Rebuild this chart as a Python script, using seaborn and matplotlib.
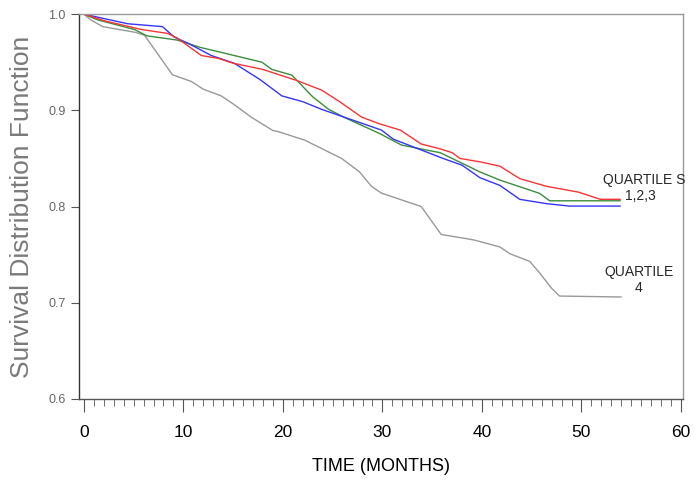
import matplotlib
matplotlib.use("Agg")
import matplotlib.pyplot as plt
import seaborn as sns
import pandas as pd

# survival curves (months, survival)
q4_time = [0, 0.7, 1.9, 5.2, 6.1, 8.9, 10.8, 12.0, 13.8, 15.1, 16.8, 19.0, 19.5, 22.2,
           25.9, 27.7, 28.9, 29.9, 33.9, 35.9, 38.8, 39.3, 41.8, 42.8, 44.8, 45.8,
           47.0, 47.8, 54.0]
q4_surv = [1.0, 0.994, 0.987, 0.981, 0.978, 0.937, 0.930, 0.922, 0.915, 0.906, 0.893,
           0.879, 0.878, 0.869, 0.850, 0.836, 0.821, 0.814, 0.800, 0.771, 0.766, 0.765,
           0.758, 0.751, 0.743, 0.731, 0.715, 0.707, 0.706]

red_time = [0, 2.1, 5.8, 8.4, 9.4, 11.8, 13.5, 15.0, 18.0, 21.4, 23.9, 25.7, 27.9, 29.7,
            31.8, 33.9, 35.8, 37.0, 37.8, 39.8, 41.8, 43.8, 46.5, 49.7, 51.9, 53.9]
red_surv = [1.0, 0.993, 0.984, 0.980, 0.975, 0.957, 0.954, 0.949, 0.9425, 0.931, 0.921,
            0.909, 0.893, 0.886, 0.8795, 0.865, 0.860, 0.856, 0.850, 0.8465, 0.842,
            0.829, 0.821, 0.815, 0.8075, 0.8075]

blue_time = [0, 4.4, 7.9, 9.1, 10.5, 12.8, 15.1, 17.7, 19.9, 22.0, 23.9, 29.9, 31.1,
             36.1, 38.0, 39.8, 41.8, 43.8, 46.5, 48.8, 53.9]
blue_surv = [1.0, 0.990, 0.987, 0.976, 0.9696, 0.957, 0.949, 0.932, 0.915, 0.909, 0.901,
             0.8795, 0.870, 0.850, 0.843, 0.830, 0.822, 0.8075, 0.803, 0.8005, 0.8005]

green_time = [0, 1.4, 5.1, 6.3, 9.4, 11.7, 13.5, 17.9, 18.9, 20.9, 23.0, 24.6, 26.1,
              29.7, 31.9, 33.8, 35.8, 39.8, 41.8, 45.8, 46.8, 53.9]
green_surv = [1.0, 0.994, 0.984, 0.9775, 0.973, 0.9654, 0.961, 0.950, 0.9425, 0.9366,
              0.914, 0.901, 0.893, 0.876, 0.864, 0.860, 0.856, 0.836, 0.8275, 0.8137,
              0.806, 0.806]

curves = [
    (q4_time, q4_surv, "#999999"),
    (green_time, green_surv, "#3c8c3c"),
    (blue_time, blue_surv, "#3535f5"),
    (red_time, red_surv, "#f53535"),
]

sns.set_style("white")
plt.rcParams["font.family"] = ["Liberation Sans", "DejaVu Sans"]

fig, ax = plt.subplots(figsize=(6.98, 4.87), dpi=100)
fig.subplots_adjust(left=0.113, right=0.9785, top=0.971, bottom=0.1807)

for t, s, c in curves:
    df = pd.DataFrame({"time": t, "surv": s})
    sns.lineplot(data=df, x="time", y="surv", color=c, linewidth=1.0, ax=ax,
                 estimator=None, sort=False)

ax.set_xlim(-0.5, 60.2)
ax.set_ylim(0.6, 1.0)
ax.set_xticks(range(0, 61, 10))
ax.set_xticks(range(0, 61, 1), minor=True)
ax.set_yticks([0.6, 0.7, 0.8, 0.9, 1.0])
ax.set_yticklabels(["0.6", "0.7", "0.8", "0.9", "1.0"])

ax.tick_params(axis="x", which="major", direction="out", length=9, width=0.8,
               color="#555555", labelsize=12.5, labelcolor="black", pad=10, bottom=True)
ax.tick_params(axis="x", which="minor", direction="out", length=5, width=0.6,
               color="#555555", bottom=True)
ax.tick_params(axis="y", which="major", direction="out", length=6, width=0.8,
               color="#555555", labelsize=9, labelcolor="#666666", left=True)

ax.spines["left"].set_color("#333333")
ax.spines["bottom"].set_color("#555555")
ax.spines["top"].set_color("#999999")
ax.spines["right"].set_color("#999999")
for sp in ax.spines.values():
    sp.set_linewidth(1.0)

ax.set_xlabel("TIME (MONTHS)", fontsize=13, color="black", labelpad=13)
ax.set_ylabel("Survival Distribution Function", fontsize=19, color="#7a7a7a", labelpad=10)

ax.text(56.3, 0.8275, "QUARTILE S", ha="center", va="center", fontsize=10)
ax.text(55.9, 0.8105, "1,2,3", ha="center", va="center", fontsize=10)
ax.text(55.8, 0.732, "QUARTILE", ha="center", va="center", fontsize=10)
ax.text(55.7, 0.7155, "4", ha="center", va="center", fontsize=10)

fig.savefig("out.png", dpi=100)
